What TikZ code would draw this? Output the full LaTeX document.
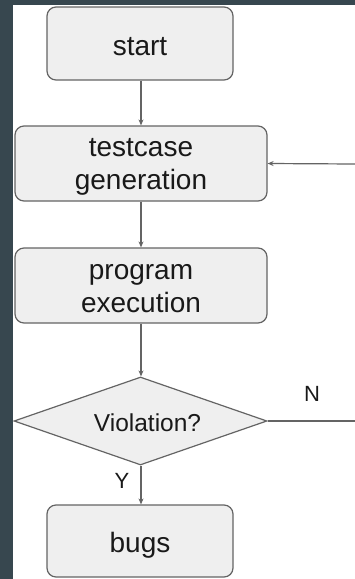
\documentclass[tikz,border=0pt]{standalone}
\usepackage{fontspec}
\setmainfont{Liberation Sans}
\usetikzlibrary{shapes.geometric,arrows.meta}
\definecolor{frame}{RGB}{55,71,79}
\definecolor{edge}{RGB}{100,100,100}
\definecolor{boxfill}{RGB}{239,239,239}
\definecolor{ink}{RGB}{25,25,25}
\tikzset{
  stepbox/.style={draw=edge, line width=1.2pt, fill=boxfill, rounded corners=9pt, inner sep=0pt},
  boxtext/.style={align=center, text=ink, font=\fontsize{28}{33}\selectfont, inner sep=0pt},
  decision/.style={draw=edge, line width=1.2pt, fill=boxfill, diamond, inner sep=0pt,
    aspect=2.875, minimum width=253pt, minimum height=88pt},
  dectext/.style={text=ink, font=\fontsize{24.5}{29}\selectfont, inner sep=0pt},
  conn/.style={draw=edge, line width=1.2pt, -{Stealth[length=6pt,width=5pt]}},
  plain/.style={draw=edge, line width=1.2pt},
  lbl/.style={text=ink, font=\fontsize{22}{26}\selectfont, inner sep=0pt}
}
\begin{document}
\begin{tikzpicture}[x=1pt,y=-1pt]
\useasboundingbox (0,0) rectangle (355,579);
\fill[frame] (0,0) rectangle (355,579);
\fill[white] (13,5) rectangle (355,579);
\node[stepbox, minimum width=186pt, minimum height=73pt] (start) at (140,43.5) {};
\node[stepbox, minimum width=252pt, minimum height=75pt] (gen) at (141,163.5) {};
\node[stepbox, minimum width=252pt, minimum height=75pt] (exec) at (141,285.5) {};
\node[decision] (viol) at (140.5,421) {};
\node[stepbox, minimum width=186pt, minimum height=72pt] (bugs) at (140,541) {};
\node[boxtext] (startt) at ([yshift=-3pt]start.center) {start};
\node[boxtext] (gent) at ([yshift=-3.5pt]gen.center) {testcase\\generation};
\node[boxtext] (exect) at ([yshift=-3.5pt]exec.center) {program\\execution};
\node[dectext] (violt) at ([xshift=7pt,yshift=-1.5pt]viol.center) {Violation?};
\node[boxtext] (bugst) at ([yshift=-4pt]bugs.center) {bugs};
\coordinate (loopin) at (355,164);
\coordinate (loopout) at (355,421);
\draw[conn] (start.south -| 141,0) -- (gen.north -| 141,0);
\draw[conn] (gen.south -| 141,0) -- (exec.north -| 141,0);
\draw[conn] (exec.south -| 141,0) -- (viol.north -| 141,0);
\draw[conn] (viol.south -| 141,0) -- (bugs.north -| 141,0);
\draw[plain] (viol.east) -- (loopout);
\draw[conn] (loopin) -- (gen.east);
\node[lbl] (nlab) at (312,394) {N};
\node[lbl] (ylab) at (122,481) {Y};
\end{tikzpicture}
\end{document}
